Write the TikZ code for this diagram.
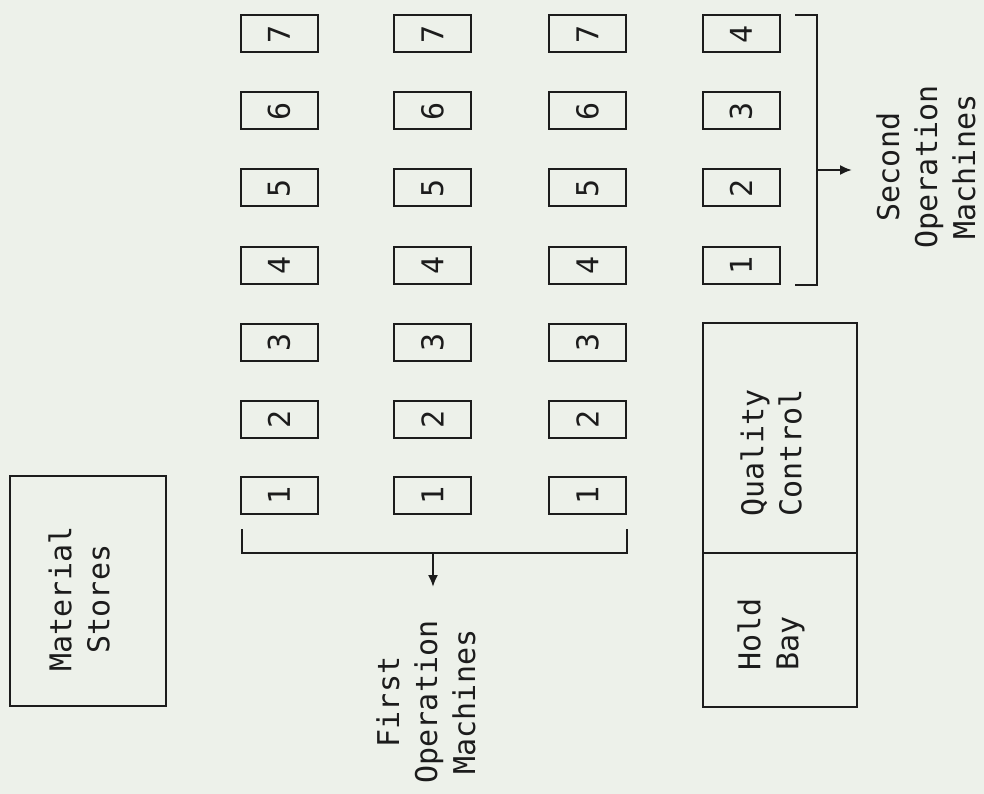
\documentclass[tikz,border=0pt]{standalone}
\usepackage{fontspec}
\setmonofont{DejaVu Sans Mono}
\usetikzlibrary{arrows.meta}
\definecolor{bgcol}{RGB}{237,241,234}
\definecolor{inkcol}{RGB}{28,28,28}
\begin{document}
\begin{tikzpicture}[x=1pt,y=-1pt,
  every node/.style={font=\ttfamily\fontsize{30}{38}\selectfont, text=inkcol},
  machine/.style={draw=inkcol, line width=2pt, rotate=90, minimum width=37pt, minimum height=77pt, inner sep=0pt},
  area/.style={draw=inkcol, line width=2pt, inner sep=0pt},
  lbl/.style={rotate=90, align=center, inner sep=0pt},
  lblleft/.style={rotate=90, align=left, inner sep=0pt, anchor=west},
  bracket/.style={draw=inkcol, line width=2pt},
  flow/.style={draw=inkcol, line width=2pt, -{Latex[length=12pt,width=10pt]}}
]
\fill[bgcol] (0,0) rectangle (984,794);
\useasboundingbox (0,0) rectangle (984,794);

% Material stores
\node[area, minimum width=156pt, minimum height=230pt] (ms) at (87.5,590.5) {};
\node[lbl] (mst) at (79,599) {Material\\Stores};

% First operation machines (three lines of 7)
\foreach \c/\x in {a/279,b/432.5,c/587.5}{
  \foreach \r/\y in {1/495,2/419,3/342,4/265,5/188,6/111,7/34}{
    \node[machine] (\c\r) at (\x,\y) {\r};
  }
}
% Second operation machines
\foreach \r/\y in {1/265,2/188,3/111,4/34}{
  \node[machine] (d\r) at (741,\y) {\r};
}

% Quality control / hold bay
\node[area, minimum width=154pt, minimum height=230pt] (qc) at (780,438) {};
\node[area, minimum width=154pt, minimum height=154pt] (hb) at (780,630) {};
\node[lbl] (qct) at (771,453) {Quality\\Control};
\node[lblleft] (hbt) at (771,671) {Hold\\Bay};

% First operation bracket
\coordinate (f1) at (242,529);
\coordinate (f2) at (242,553);
\coordinate (f3) at (627,553);
\coordinate (f4) at (627,529);
\coordinate (fm) at (433,553);
\coordinate (fe) at (433,587);
\draw[bracket] (f1) -- (f2) -- (f3) -- (f4);
\draw[flow] (fm) -- (fe);
\node[lbl] (fot) at (426,702) {First\\Operation\\Machines};

% Second operation bracket
\coordinate (s1) at (795,15);
\coordinate (s2) at (817,15);
\coordinate (s3) at (817,285);
\coordinate (s4) at (795,285);
\coordinate (sm) at (817,170);
\coordinate (se) at (852,170);
\draw[bracket] (s1) -- (s2) -- (s3) -- (s4);
\draw[flow] (sm) -- (se);
\node[lbl] (sot) at (926,167) {Second\\Operation\\Machines};
\end{tikzpicture}
\end{document}
